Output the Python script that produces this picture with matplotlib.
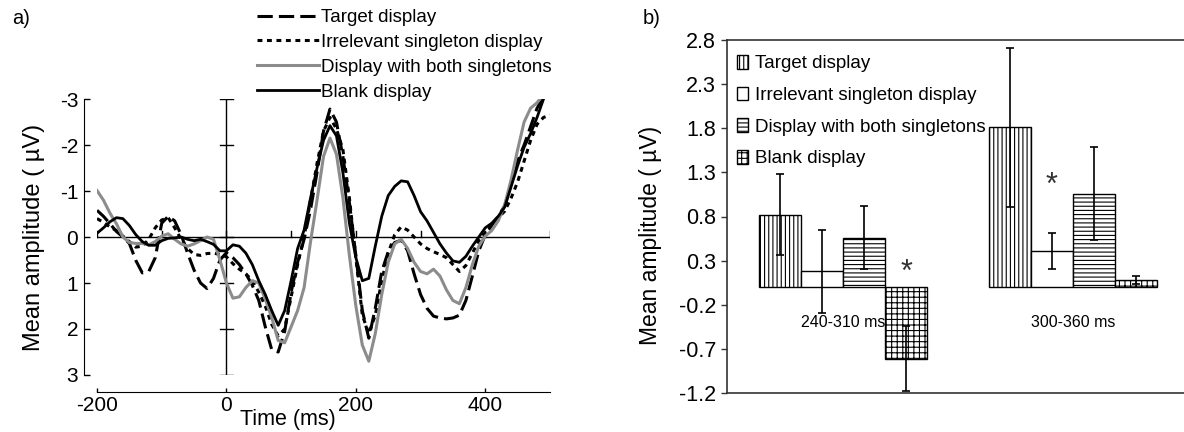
import matplotlib
matplotlib.use('Agg')
import matplotlib.pyplot as plt

plt.rcParams['font.family'] = ['Liberation Sans', 'DejaVu Sans']
plt.rcParams['hatch.linewidth'] = 0.8
plt.rcParams['axes.unicode_minus'] = False

# ---- data, panel a: mean ERP amplitude (uV) every 10 ms ----
time_ms = list(range(-200, 510, 10))

target = [-0.58, -0.45, -0.29, -0.12, 0.0, 0.14, 0.51, 0.78, 0.75, 0.45,
          -0.3, -0.45, -0.35, -0.05, 0.35, 0.72, 1.0, 1.12, 0.9, 0.5,
          0.34, 0.45, 0.6, 0.8, 1.05, 1.38, 1.95, 2.45, 2.5, 2.05,
          1.2, 0.55, 0.05, -0.6, -1.4, -2.3, -2.78, -2.5, -1.75, -0.75,
          0.4, 1.6, 2.2, 1.55, 0.75, 0.32, 0.12, 0.07, 0.3, 0.8,
          1.25, 1.55, 1.72, 1.76, 1.78, 1.76, 1.7, 1.38, 0.85, 0.3,
          -0.05, -0.25, -0.45, -0.68, -1.15, -1.65, -2.0, -2.4, -2.8, -3.05,
          -3.2]

irrelevant = [-0.4, -0.32, -0.22, -0.14, -0.02, 0.1, 0.22, 0.2, 0.05, -0.2,
              -0.37, -0.42, -0.2, 0.05, 0.25, 0.38, 0.4, 0.36, 0.35, 0.38,
              0.43, 0.58, 0.7, 0.8, 0.95, 1.2, 1.5, 1.9, 2.15, 2.0,
              1.3, 0.6, 0.0, -0.8, -1.6, -2.3, -2.6, -2.35, -1.9, -0.85,
              0.45, 1.7, 2.1, 1.7, 0.95, 0.35, -0.05, -0.22, -0.15, 0.0,
              0.15, 0.25, 0.32, 0.38, 0.45, 0.6, 0.75, 0.62, 0.35, 0.08,
              -0.1, -0.28, -0.42, -0.56, -0.85, -1.2, -1.65, -2.1, -2.45, -2.6,
              -2.65]

both = [-1.01, -0.8, -0.52, -0.29, 0.0, 0.12, 0.14, 0.14, 0.17, 0.1,
        -0.02, -0.07, 0.05, 0.15, 0.2, 0.15, 0.08, 0.0, 0.05, 0.5,
        1.0, 1.33, 1.3, 1.1, 0.95, 1.0, 1.35, 1.75, 2.25, 2.3,
        1.95, 1.6, 1.1, 0.1, -0.8, -1.75, -2.15, -1.8, -0.85, 0.4,
        1.5, 2.35, 2.7, 2.1, 1.25, 0.55, 0.15, 0.05, 0.25, 0.55,
        0.75, 0.8, 0.7, 0.85, 1.15, 1.38, 1.45, 1.1, 0.6, 0.2,
        -0.02, -0.14, -0.35, -0.7, -1.25, -1.9, -2.5, -2.8, -2.92, -3.1,
        -3.3]

blank = [-0.08, -0.2, -0.33, -0.42, -0.4, -0.25, -0.05, 0.1, 0.18, 0.18,
         0.08, 0.03, 0.02, 0.0, 0.05, 0.08, 0.05, 0.1, 0.16, 0.3,
         0.3, 0.17, 0.2, 0.35, 0.6, 0.95, 1.25, 1.6, 1.92, 1.6,
         0.95, 0.25, -0.15, -0.85, -1.5, -2.1, -2.42, -2.2, -1.4, -0.3,
         0.45, 0.95, 0.9, 0.2, -0.45, -0.9, -1.1, -1.22, -1.2, -0.9,
         -0.55, -0.35, -0.1, 0.15, 0.35, 0.52, 0.55, 0.42, 0.2, 0.0,
         -0.2, -0.3, -0.45, -0.65, -1.1, -1.55, -1.95, -2.25, -2.6, -3.0,
         -3.3]

conditions = ['Target display', 'Irrelevant singleton display',
              'Display with both singletons', 'Blank display']

# ---- data, panel b: mean amplitude per time window ----
windows = ['240-310 ms', '300-360 ms']
means_240 = [0.82, 0.18, 0.56, -0.81]
err_240 = [0.46, 0.47, 0.36, 0.37]
means_300 = [1.81, 0.41, 1.06, 0.08]
err_300 = [0.90, 0.205, 0.53, 0.045]
b_yticks = [-1.2, -0.7, -0.2, 0.3, 0.8, 1.3, 1.8, 2.3, 2.8]

W, H = 1184, 432
fig = plt.figure(figsize=(W / 100, H / 100), dpi=100)

# ================= panel a =================
ax1 = fig.add_axes([97 / W, 1 - 375 / H, 453 / W, 276 / H])
styles = [dict(color='black', lw=2.2, ls=(0, (5, 2))),
          dict(color='black', lw=2.2, ls=(0, (1.6, 1.5))),
          dict(color='#8c8c8c', lw=2.2, ls='-'),
          dict(color='black', lw=2.0, ls='-')]
lines = []
for series, st in zip([target, irrelevant, both, blank], styles):
    ln, = ax1.plot(time_ms, series, zorder=3, **st)
    lines.append(ln)

ax1.set_xlim(-200, 500)
ax1.set_ylim(3, -3)

# zero line and stimulus-onset axis
ax1.axhline(0, color='black', lw=1.0, zorder=1)
ax1.axvline(0, color='black', lw=1.0, zorder=1)
for v in range(-3, 4):
    ax1.plot([-10, 10], [v, v], color='black', lw=1.0, zorder=1)
for t in range(-200, 501, 100):
    ax1.plot([t, t], [0, -0.12], color='black', lw=1.0, zorder=1)

ax1.spines['top'].set_visible(False)
ax1.spines['right'].set_visible(False)
ax1.spines['left'].set_position(('outward', 9.5))
ax1.spines['bottom'].set_position(('outward', 12))
ax1.set_xticks([-200, 0, 200, 400])
ax1.set_yticks(range(-3, 4))
ax1.tick_params(axis='y', direction='in', length=4.5, width=1, labelsize=15, pad=4)
ax1.tick_params(axis='x', direction='in', length=3, width=1, labelsize=15, pad=3)
ax1.set_ylabel('Mean amplitude ( µV)', fontsize=17)
ax1.yaxis.set_label_coords(-0.115, 0.5)
fig.text(288 / W, 1 - 420 / H, 'Time (ms)', ha='center', va='center', fontsize=15.5)

fig.legend(lines, conditions, loc='upper left', bbox_to_anchor=(257 / W, 1 - 9 / H),
           frameon=False, fontsize=13.5, handlelength=3.3, handletextpad=0.1,
           labelspacing=0.41, borderpad=0, borderaxespad=0)

fig.text(12 / W, 1 - 18 / H, 'a)', fontsize=14.5, va='center')

# ================= panel b =================
ax2 = fig.add_axes([727 / W, 1 - 393 / H, (W - 727) / W, 353 / H])
w = 0.183
offsets = [-1.5 * w, -0.5 * w, 0.5 * w, 1.5 * w]
hatches = ['||||', '', '----', '+++']
for i, cond in enumerate(conditions):
    ax2.bar([1 + offsets[i], 2 + offsets[i]], [means_240[i], means_300[i]], width=w,
            yerr=[err_240[i], err_300[i]], facecolor='white', edgecolor='black',
            lw=1.0, hatch=hatches[i], capsize=3, label=cond,
            error_kw=dict(ecolor='black', elinewidth=1.2, capthick=1.2))

ax2.text(1 + offsets[3], 0.16, '*', ha='center', va='center', fontsize=22, color='#333333')
ax2.text(2 + offsets[1], 1.15, '*', ha='center', va='center', fontsize=22, color='#333333')
for x, lab in zip([1, 2], windows):
    ax2.text(x, -0.4, lab, ha='center', va='center', fontsize=11.5)

ax2.set_xlim(0.496, 2.483)
ax2.set_ylim(-1.2, 2.8)
ax2.set_yticks(b_yticks)
ax2.set_yticklabels(['%.1f' % v for v in b_yticks])
ax2.set_xticks([])
ax2.spines['right'].set_visible(False)
for s in ['left', 'top', 'bottom']:
    ax2.spines[s].set_color('#333333')
    ax2.spines[s].set_linewidth(1.2)
ax2.tick_params(axis='y', direction='out', length=4.5, width=1, labelsize=15.5, pad=3.5,
                color='#333333')
ax2.set_ylabel('Mean amplitude ( µV)', fontsize=16.5)
ax2.yaxis.set_label_coords(-0.142, 0.445)

ax2.legend(loc='upper left', bbox_to_anchor=(737 / W, 1 - 55 / H), bbox_transform=fig.transFigure,
           frameon=False, fontsize=13.5, handlelength=0.6, handleheight=0.75,
           handletextpad=0.35, labelspacing=0.76, borderpad=0, borderaxespad=0)

fig.text(643 / W, 1 - 18 / H, 'b)', fontsize=14.5, va='center')

fig.savefig('out.png', dpi=100)
